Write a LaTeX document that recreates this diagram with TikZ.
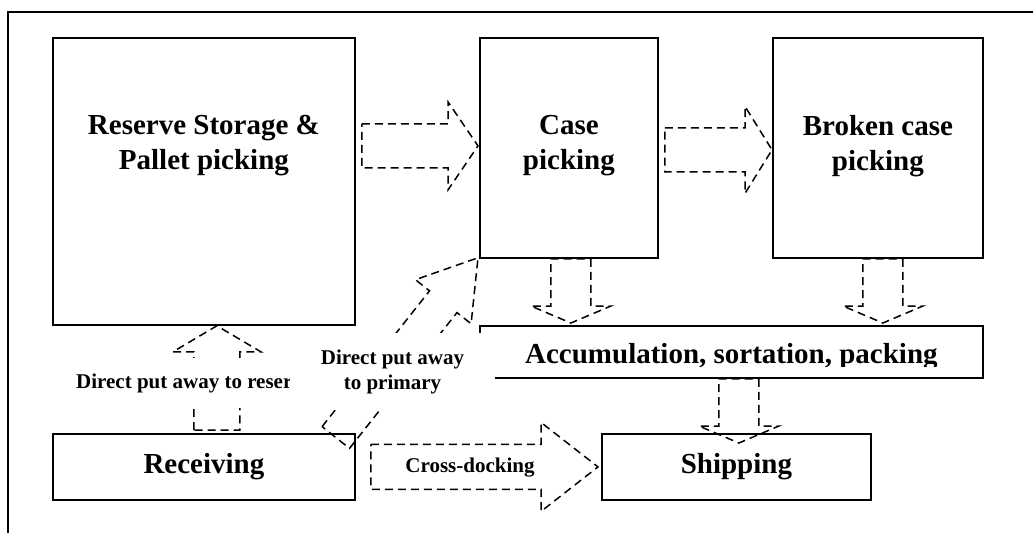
\documentclass[tikz,border=0pt]{standalone}
\usepackage{fontspec}
\setmainfont{Liberation Serif}
\usetikzlibrary{calc}

% dashed block arrow: tail, tip, shaft half-width, head half-width, head length
\newcommand\blockarrow[5]{%
  \coordinate (ba-h) at ($(#2)!#5pt!(#1)$);
  \draw[flow] ($(#1)!#3pt!90:(#2)$) -- ($(ba-h)!#3pt!-90:(#1)$)
    -- ($(ba-h)!#4pt!-90:(#1)$) -- (#2) -- ($(ba-h)!#4pt!90:(#1)$)
    -- ($(ba-h)!#3pt!90:(#1)$) -- ($(#1)!#3pt!-90:(#2)$) -- cycle;}

\begin{document}
\begin{tikzpicture}[x=1pt,y=-1pt,
  area/.style={draw, line width=1.8pt, inner sep=0pt, anchor=north west},
  big/.style={font=\bfseries\fontsize{29}{35}\selectfont, align=center, inner sep=0pt},
  small/.style={font=\bfseries\fontsize{21}{25}\selectfont, align=center, inner sep=0pt},
  flow/.style={line width=1.5pt, dash pattern=on 8pt off 5pt},
  cover/.style={small, fill=white}]
\useasboundingbox (0,0) rectangle (1033,533);

% outer frame
\draw[line width=1.5pt] (8,533) -- (8,12) -- (1033,12);

% areas of the warehouse
\node[area, minimum width=302, minimum height=287] (res) at (52,37) {};
\node[area, minimum width=178, minimum height=220] (case) at (479,37) {};
\node[area, minimum width=210, minimum height=220] (brk) at (772,37) {};
\node[area, minimum width=503, minimum height=52] (acc) at (479,325) {};
\node[area, minimum width=302, minimum height=66, big] (rcv) at (52,433) {Receiving};
\node[area, minimum width=269, minimum height=66, big] (shp) at (601,433) {Shipping};

\node[big] (restxt) at ($(res.north)+(0,109)$) {Reserve Storage \&\\Pallet picking};
\node[big] (casetxt) at ($(case.north)+(0,109)$) {Case\\picking};
\node[big] (brktxt) at ($(brk.north)+(0,109)$) {Broken case\\picking};
\begin{scope}
  \clip (acc.north west) rectangle ($(acc.east)+(0,14.5)$);
  \node[big] (acctxt) at ($(acc.center)+(0,4.4)$) {Accumulation, sortation, packing};
\end{scope}

% material flows
\coordinate (t1) at ($(res.east)+(6,-35.5)$);
\coordinate (h1) at ($(t1 -| case.west)+(-1,0)$);
\blockarrow{t1}{h1}{22}{44}{30}

\coordinate (t2) at ($(case.east)+(6,2)$);
\coordinate (h2) at (t2 -| brk.west);
\blockarrow{t2}{h2}{22}{43.5}{27}

\coordinate (t3) at ($(case.south)+(2,0)$);
\coordinate (h3) at ($(t3 |- acc.north)+(0,-2)$);
\blockarrow{t3}{h3}{20}{40}{17}

\coordinate (t4) at ($(brk.south)+(5,0)$);
\coordinate (h4) at ($(t4 |- acc.north)+(0,-2)$);
\blockarrow{t4}{h4}{20}{40}{17}

\coordinate (t5) at ($(acc.south)+(7.5,0)$);
\coordinate (h5) at ($(t5 |- shp.north)+(0,10)$);
\blockarrow{t5}{h5}{20}{40}{17}

\coordinate (t6) at ($(rcv.north)+(13,-3)$);
\coordinate (h6) at (t6 |- res.south);
\blockarrow{t6}{h6}{23}{44}{26}

\coordinate (t7) at ($(rcv.north east)+(-20,4.5)$);
\coordinate (h7) at ($(case.south west)+(-1,-1)$);
\blockarrow{t7}{h7}{17.5}{35.5}{56}

\coordinate (t8) at ($(rcv.east)+(15,0)$);
\coordinate (h8) at ($(shp.west)+(-3,0)$);
\blockarrow{t8}{h8}{22.5}{44.5}{57}

% flow labels
\node[cover, anchor=west, minimum height=50, inner xsep=6pt] (lres) at (70,383) {Direct put away to reserve};
\node[cover, minimum width=205, minimum height=77] (lpri) at (392.5,371.5) {Direct put away\\to primary};
\node[small] (lcross) at (470,468) {Cross-docking};
\end{tikzpicture}
\end{document}
